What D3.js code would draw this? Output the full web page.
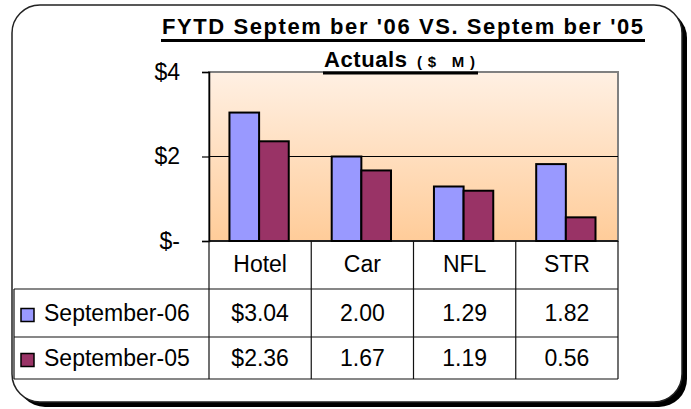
<!DOCTYPE html>
<html>
<head>
<meta charset="utf-8">
<script src="https://cdn.jsdelivr.net/npm/d3@7"></script>
<style>
  html, body { margin: 0; padding: 0; background: #fff; }
  svg { display: block; font-family: "Liberation Sans", Arial, sans-serif; }
</style>
</head>
<body>
<svg id="chart" width="691" height="409"></svg>
<script>
// ---- data ----
const categories = ["Hotel", "Car", "NFL", "STR"];
const seriesNames = ["September-06", "September-05"];
const sep06 = [3.04, 2.00, 1.29, 1.82];
const sep05 = [2.36, 1.67, 1.19, 0.56];
const seriesColors = ["#9999FF", "#993366"];
const yTicks = [0, 2, 4];
const titleLine1 = "FYTD Septem ber '06 VS. Septem ber '05";
const titleLine2a = "Actuals";
const titleLine2b = "($ M)";

const seriesValues = [sep06, sep05];

// ---- layout ----
const svg = d3.select("#chart");
const plot = { left: 209, right: 618, top: 72, bottom: 241 };
const tableLeft = 14;
const rowEdges = [241, 289, 337, 379];
const fs = 23;

// frame with shadow
svg.append("rect").attr("x", 17).attr("y", 10).attr("width", 670).attr("height", 397)
  .attr("rx", 28).attr("fill", "#000");
svg.append("rect").attr("x", 12).attr("y", 5).attr("width", 670).attr("height", 397)
  .attr("rx", 28).attr("fill", "#fff").attr("stroke", "#222").attr("stroke-width", 1.5);

// gradient
const defs = svg.append("defs");
const grad = defs.append("linearGradient").attr("id", "bg").attr("x1", 0).attr("y1", 0).attr("x2", 0).attr("y2", 1);
grad.append("stop").attr("offset", "0%").attr("stop-color", "#FFF0E3");
grad.append("stop").attr("offset", "100%").attr("stop-color", "#FFCC99");

// scales
const x = d3.scaleBand().domain(categories).range([plot.left, plot.right]).paddingInner(0).paddingOuter(0);
const bw = x.bandwidth();
const x1 = d3.scaleBand().domain(seriesNames).range([bw * 0.2, bw * 0.78]).padding(0);
const y = d3.scaleLinear().domain([0, 4]).range([plot.bottom, plot.top]);

// plot area
svg.append("rect").attr("x", plot.left).attr("y", plot.top)
  .attr("width", plot.right - plot.left).attr("height", plot.bottom - plot.top)
  .attr("fill", "url(#bg)").attr("stroke", "#808080").attr("stroke-width", 2);

// gridline
svg.append("g").selectAll("line").data(yTicks.filter(d => d > 0 && d < 4)).join("line")
  .attr("x1", plot.left).attr("x2", plot.right)
  .attr("y1", d => y(d)).attr("y2", d => y(d))
  .attr("stroke", "#000").attr("stroke-width", 1);

// bars
const groups = svg.append("g").selectAll("g").data(categories).join("g")
  .attr("transform", d => `translate(${x(d)},0)`);
groups.selectAll("rect").data((c, i) => seriesNames.map((s, j) => ({ s, v: seriesValues[j][i], j })))
  .join("rect")
  .attr("x", d => x1(d.s))
  .attr("width", x1.bandwidth())
  .attr("y", d => y(d.v))
  .attr("height", d => y(0) - y(d.v))
  .attr("fill", d => seriesColors[d.j])
  .attr("stroke", "#000").attr("stroke-width", 2);

// y axis
const yAxis = d3.axisLeft(y).tickValues(yTicks).tickSize(7).tickPadding(22)
  .tickFormat(d => d === 0 ? "$-" : "$" + d);
const gy = svg.append("g").attr("transform", `translate(${plot.left},0)`).call(yAxis);
gy.select(".domain").attr("stroke", "#000").attr("stroke-width", 1.5);
gy.selectAll(".tick line").attr("stroke", "#000").attr("stroke-width", 1.2);
gy.selectAll(".tick text").attr("font-size", fs).attr("fill", "#000")
  .attr("font-family", "'Liberation Sans', Arial, sans-serif");

// baseline
svg.append("line").attr("x1", plot.left).attr("x2", plot.right)
  .attr("y1", y(0)).attr("y2", y(0)).attr("stroke", "#000").attr("stroke-width", 1.5);

// ---- data table ----
const tbl = svg.append("g").attr("stroke", "#111").attr("stroke-width", 1.2);
rowEdges.slice(1).forEach(yy => {
  tbl.append("line").attr("x1", tableLeft).attr("x2", plot.right).attr("y1", yy).attr("y2", yy);
});
const edges = categories.map(c => x(c)).concat([plot.right]);
tbl.selectAll("line.v").data(edges).join("line").attr("class", "v")
  .attr("x1", d => d).attr("x2", d => d)
  .attr("y1", rowEdges[0]).attr("y2", rowEdges[3]);
tbl.append("line").attr("x1", tableLeft).attr("x2", tableLeft)
  .attr("y1", rowEdges[1]).attr("y2", rowEdges[3]);

// header labels
svg.append("g").selectAll("text").data(categories).join("text")
  .attr("x", d => x(d) + bw / 2)
  .attr("y", (rowEdges[0] + rowEdges[1]) / 2 + 0.36 * fs - 1)
  .attr("text-anchor", "middle").attr("font-size", fs).attr("fill", "#000")
  .text(d => d);

// rows
const fmt = d3.format(".2f");
seriesNames.forEach((s, j) => {
  const cy = (rowEdges[j + 1] + rowEdges[j + 2]) / 2;
  const g = svg.append("g");
  g.append("rect").attr("x", 21).attr("y", cy - 4.5)
    .attr("width", 13).attr("height", 13)
    .attr("fill", seriesColors[j]).attr("stroke", "#000").attr("stroke-width", 1.5);
  g.append("text").attr("x", 44).attr("y", cy + 0.36 * fs)
    .attr("font-size", fs).attr("fill", "#000").text(s);
  g.selectAll("text.v").data(seriesValues[j]).join("text").attr("class", "v")
    .attr("x", (d, i) => x(categories[i]) + bw / 2)
    .attr("y", cy + 0.36 * fs)
    .attr("text-anchor", "middle").attr("font-size", fs).attr("fill", "#000")
    .text((d, i) => (i === 0 ? "$" : "") + fmt(d));
});

// ---- title ----
svg.append("text").attr("x", 162).attr("y", 34)
  .attr("font-size", 22).attr("font-weight", "bold").attr("fill", "#000")
  .attr("textLength", 481).attr("lengthAdjust", "spacing")
  .text(titleLine1);
svg.append("rect").attr("x", 161).attr("y", 39).attr("width", 484).attr("height", 3).attr("fill", "#000");

svg.append("text").attr("x", 324).attr("y", 67)
  .attr("font-size", 22).attr("font-weight", "bold").attr("fill", "#000")
  .attr("textLength", 83).attr("lengthAdjust", "spacing")
  .text(titleLine2a);
svg.append("text").attr("x", 417).attr("y", 67)
  .attr("font-size", 15).attr("font-weight", "bold").attr("fill", "#000")
  .attr("textLength", 58).attr("lengthAdjust", "spacing")
  .text(titleLine2b);
svg.append("rect").attr("x", 323).attr("y", 71.5).attr("width", 155).attr("height", 3).attr("fill", "#000");
</script>
</body>
</html>
